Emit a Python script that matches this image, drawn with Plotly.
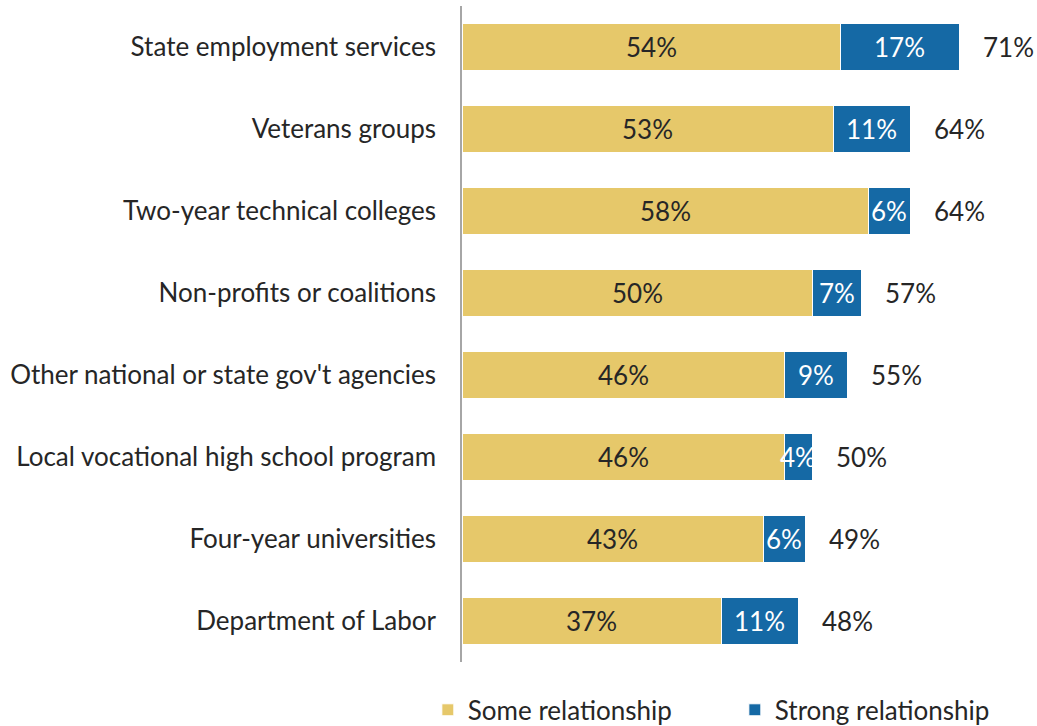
import plotly.graph_objects as go

categories = [
    "State employment services",
    "Veterans groups",
    "Two-year technical colleges",
    "Non-profits or coalitions",
    "Other national or state gov't agencies",
    "Local vocational high school program",
    "Four-year universities",
    "Department of Labor",
]
some_rel = [54, 53, 58, 50, 46, 46, 43, 37]
strong_rel = [17, 11, 6, 7, 9, 4, 6, 11]
totals = [71, 64, 64, 57, 55, 50, 49, 48]

YELLOW = "#E6C86A"
BLUE = "#1569A5"
FONT = "Lato"
TXT = "#262626"
FS = 26

fig = go.Figure()
fig.add_trace(go.Bar(
    y=categories, x=some_rel, orientation="h", name="Some relationship",
    marker=dict(color=YELLOW, line=dict(color="white", width=1)),
))
fig.add_trace(go.Bar(
    y=categories, x=strong_rel, orientation="h", name="Strong relationship",
    marker=dict(color=BLUE, line=dict(color="white", width=1)),
))

annotations = []
for cat, s, st, tot in zip(categories, some_rel, strong_rel, totals):
    annotations.append(dict(x=s / 2, y=cat, text=f"{s}%", showarrow=False,
                             font=dict(family=FONT, size=FS, color=TXT)))
    annotations.append(dict(x=s + st / 2, y=cat, text=f"{st}%", showarrow=False,
                             font=dict(family=FONT, size=FS, color="white")))
    annotations.append(dict(x=tot, y=cat, text=f"{tot}%", showarrow=False,
                             xanchor="left", xshift=22,
                             font=dict(family=FONT, size=FS, color=TXT)))

fig.update_layout(
    barmode="stack",
    bargap=0.415,
    width=1037, height=726,
    margin=dict(l=462, r=15, t=6, b=64, autoexpand=False),
    paper_bgcolor="white", plot_bgcolor="white",
    font=dict(family=FONT, size=FS, color=TXT),
    xaxis=dict(range=[0, 80], visible=False),
    yaxis=dict(
        categoryorder="array", categoryarray=categories, autorange="reversed",
        showline=True, linecolor="#A6A6A6", linewidth=1.5,
        showgrid=False, ticks="", ticklabelstandoff=19,
        tickfont=dict(family=FONT, size=FS, color=TXT),
    ),
    legend=dict(
        orientation="h", x=-0.061, xanchor="left", y=-0.073, yanchor="middle",
        font=dict(family=FONT, size=FS, color=TXT),
        entrywidth=262, entrywidthmode="pixels",
        traceorder="normal",
    ),
    annotations=annotations,
    showlegend=True,
)

fig.write_html("out.html")
